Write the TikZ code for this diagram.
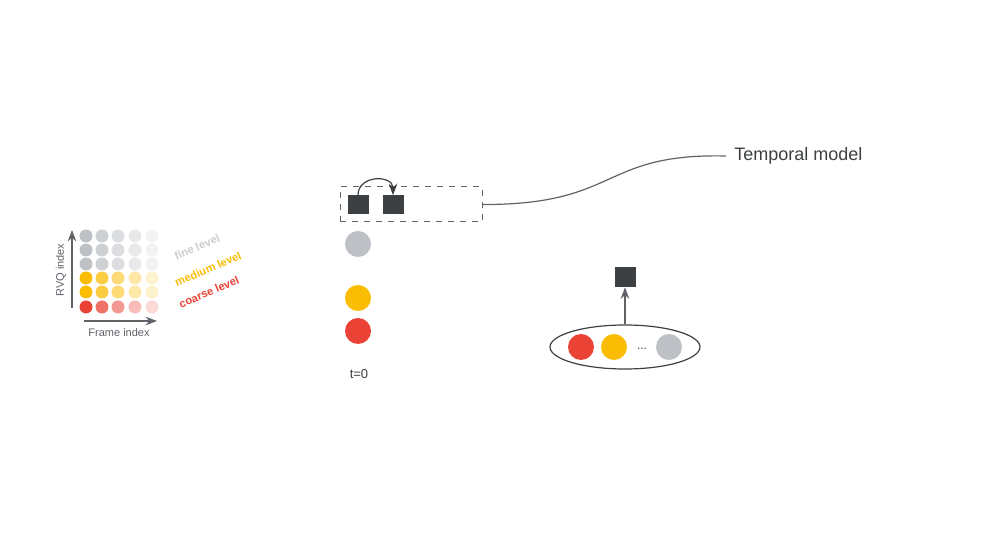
\documentclass[tikz,border=0pt]{standalone}
\usepackage{fontspec}
\setmainfont{Liberation Sans}
\usetikzlibrary{positioning, arrows.meta, shapes.geometric, calc}
\definecolor{gGray}{HTML}{BDC1C6}
\definecolor{gYellow}{HTML}{FBBC04}
\definecolor{gRed}{HTML}{EA4335}
\definecolor{gDark}{HTML}{3C4043}
\definecolor{gLine}{HTML}{5F6368}

\begin{document}
\begin{tikzpicture}[
  x=0.5pt, y=-0.5pt,
  >=Stealth,
  dot/.style={circle, inner sep=0pt, minimum size=6.5pt},
  token/.style={circle, inner sep=0pt, minimum size=13pt},
  frame/.style={draw=none, fill=gDark, inner sep=0pt, minimum width=10.5pt, minimum height=9.5pt},
  level/.style={font=\fontsize{5.6}{6}\selectfont\bfseries, rotate=23, inner sep=0pt},
  axis/.style={->, gLine, line width=0.6pt},
]
  \useasboundingbox (0,0) rectangle (987,555);

  % RVQ grid (rows fade along the frame index)
  \foreach \c/\x/\op in {1/86/1, 2/102/0.75, 3/118/0.55, 4/135/0.35, 5/152/0.2} {
    \foreach \r/\y/\col in {1/236/gGray, 2/250/gGray, 3/264/gGray,
                            4/278/gYellow, 5/292/gYellow, 6/307/gRed} {
      \node[dot, fill=\col, fill opacity=\op] (g-\c-\r) at (\x,\y) {};
    }
  }

  % Axes
  \coordinate (ybot) at (72,308);
  \coordinate (ytop) at (72,230);
  \coordinate (xlft) at (84,321);
  \coordinate (xrgt) at (157,321);
  \draw[axis] (ybot) -- (ytop);
  \draw[axis] (xlft) -- (xrgt);
  \node[rotate=90, font=\fontsize{5.5}{6}\selectfont, text=gLine] (rvq) at (61,270) {RVQ index};
  \node[font=\fontsize{5.5}{6}\selectfont, text=gLine] (fidx) at (119,333) {Frame index};

  % Level labels
  \node[level, text=gray!40] (fine) at (197,247) {fine level};
  \node[level, text=gYellow] (medium) at (208,269) {medium level};
  \node[level, text=gRed] (coarse) at (209,292) {coarse level};

  % Time step t=0
  \node[draw=gLine, dashed, line width=0.5pt, minimum width=71pt, minimum height=17.5pt,
        inner sep=0pt] (tbox) at (411,204.5) {};
  \node[frame] (sq1) at (358,205) {};
  \node[frame] (sq2) at (393,205) {};
  \draw[->, gDark, line width=0.6pt] (sq1.north) to[out=90, in=90, looseness=1.5] (sq2.north);

  \node[token, fill=gGray] (c-fine) at (358,244) {};
  \node[token, fill=gYellow] (c-med) at (358,298) {};
  \node[token, fill=gRed] (c-coarse) at (358,331) {};
  \node[font=\fontsize{6.5}{8}\selectfont, text=gDark] (t0) at (359,374) {t=0};

  % Temporal model label
  \node[anchor=west, font=\fontsize{9}{11}\selectfont, text=gDark, inner sep=4pt] (temporal) at (726,156) {Temporal model};
  \draw[gLine, line width=0.6pt] (tbox.east) .. controls (620,205) and (600,153) .. (temporal.west);

  % Ellipse of tokens
  \node[ellipse, draw=gDark, line width=0.6pt, minimum width=75pt, minimum height=22pt,
        inner sep=0pt] (ell) at (625,347) {};
  \node[token, fill=gRed] (e-coarse) at (581,347) {};
  \node[token, fill=gYellow] (e-med) at (614,347) {};
  \node[font=\fontsize{6}{7}\selectfont, text=gDark] (dots) at (642,349) {...};
  \node[token, fill=gGray] (e-fine) at (669,347) {};

  \node[frame, minimum width=10.5pt, minimum height=10pt] (sq3) at (625,277) {};
  \draw[->, gLine, line width=0.6pt] (ell.north) -- (sq3.south);
\end{tikzpicture}
\end{document}
